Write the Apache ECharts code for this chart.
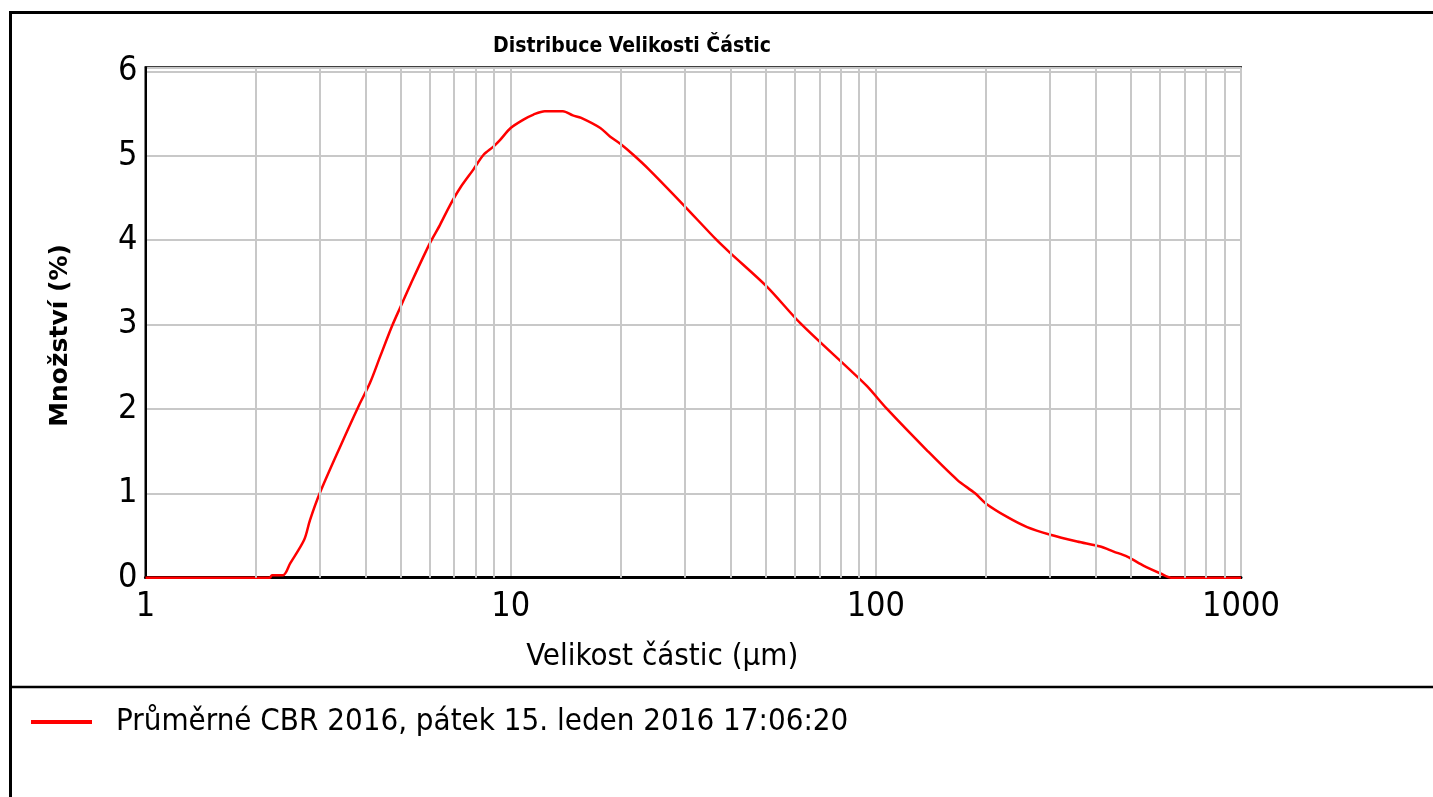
<!DOCTYPE html>
<html>
<head>
<meta charset="utf-8">
<script src="https://cdn.jsdelivr.net/npm/echarts@6/dist/echarts.min.js"></script>
<style>
html,body{margin:0;padding:0;background:#fff;}
#chart{width:1433px;height:797px;}
</style>
</head>
<body>
<div id="chart"></div>
<script>
// Particle size (µm) and amount (%)
const sizes = [1, 2.19, 2.22, 2.38, 2.49, 2.72, 2.82, 3.0, 3.41, 3.83, 4.12, 4.39, 4.73, 4.98, 5.31, 6.0, 6.4, 6.83, 7.27, 7.91, 8.42, 8.97, 9.36, 10, 10.84, 11.55, 12.4, 13.9, 14.8, 15.6, 17.6, 18.7, 20, 21.7, 23.9, 29.7, 36.7, 39.9, 50.3, 62, 85.1, 94.6, 107.3, 138, 167, 187, 200, 228.8, 259.6, 300.6, 355.8, 412, 448, 488, 542, 602, 644, 1000];
const amounts = [0, 0, 0.03, 0.03, 0.17, 0.45, 0.68, 1.0, 1.55, 2.03, 2.31, 2.62, 2.98, 3.2, 3.47, 3.96, 4.18, 4.42, 4.62, 4.84, 5.01, 5.11, 5.19, 5.33, 5.43, 5.49, 5.53, 5.53, 5.48, 5.45, 5.33, 5.23, 5.14, 5.01, 4.84, 4.42, 4.0, 3.85, 3.45, 3.02, 2.46, 2.27, 2.0, 1.51, 1.16, 1.0, 0.88, 0.72, 0.60, 0.51, 0.43, 0.37, 0.31, 0.25, 0.14, 0.05, 0, 0];
const minorGridSizes = [2, 3, 4, 5, 6, 7, 8, 9, 20, 30, 40, 50, 60, 70, 80, 90, 200, 300, 400, 500, 600, 700, 800, 900];
const seriesName = 'Průměrné CBR 2016, pátek 15. leden 2016 17:06:20';
const titleText = 'Distribuce Velikosti Částic';
const xTitle = 'Velikost částic (µm)';
const yTitle = 'Množství (%)';

const NARROW = "'Liberation Sans Narrow', 'DejaVu Sans Condensed', sans-serif";
const COND = "'DejaVu Sans Condensed', sans-serif";
const GRID_GRAY = '#c8c8c8';

const chart = echarts.init(document.getElementById('chart'), null, {renderer: 'canvas'});
const data = sizes.map((s, i) => [s, amounts[i]]);

chart.setOption({
  animation: false,
  backgroundColor: '#fff',
  title: {
    text: titleText,
    left: 493, top: 36,
    padding: 0,
    textStyle: {fontFamily: COND, fontWeight: 'bold', fontSize: 21, color: '#000'}
  },
  grid: {
    left: 145.5, right: 192, top: 67.3, bottom: 219.3,
    show: true, borderColor: '#000', borderWidth: 2, backgroundColor: 'transparent'
  },
  legend: {
    data: [seriesName],
    left: 31, top: 706.5, padding: 0,
    icon: 'rect', itemWidth: 61, itemHeight: 4,
    textStyle: {fontFamily: COND, fontSize: 31, color: '#000', padding: [0, 0, 0, 19]}
  },
  xAxis: {
    type: 'log', logBase: 10, min: 1, max: 1000,
    name: xTitle, nameLocation: 'middle', nameGap: 64,
    nameTextStyle: {fontFamily: COND, fontSize: 31, color: '#000', padding: [0, 62, 0, 0]},
    axisLine: {show: true, lineStyle: {color: '#000', width: 3}},
    axisTick: {show: false},
    axisLabel: {fontFamily: NARROW, fontSize: 34, color: '#000', margin: 12, formatter: v => String(Math.round(v))},
    splitLine: {show: true, lineStyle: {color: GRID_GRAY, width: 2}}
  },
  yAxis: {
    type: 'value', min: 0, max: 6.05, interval: 1,
    name: yTitle, nameLocation: 'middle', nameGap: 73,
    nameTextStyle: {fontFamily: "'DejaVu Sans', sans-serif", fontWeight: 'bold', fontSize: 25, color: '#000', padding: [0, 26, 0, 0]},
    axisLine: {show: true, lineStyle: {color: '#000', width: 2}},
    axisTick: {show: false},
    axisLabel: {fontFamily: NARROW, fontSize: 34, color: '#000', margin: 8, showMaxLabel: false, padding: [7, 0, 0, 0]},
    splitLine: {show: true, lineStyle: {color: GRID_GRAY, width: 2}}
  },
  series: [
    {
      name: 'grid', type: 'line', data: [], silent: true, z: 1,
      markLine: {
        silent: true, symbol: ['none', 'none'], animation: false,
        label: {show: false},
        lineStyle: {color: GRID_GRAY, width: 2, type: 'solid'},
        emphasis: {disabled: true},
        data: minorGridSizes.map(v => ({xAxis: v}))
      }
    },
    {
      name: seriesName, type: 'line', data: data, z: 3,
      showSymbol: false, smooth: 0.3,
      color: '#ff0000',
      lineStyle: {color: '#ff0000', width: 2.5}
    }
  ],
  graphic: [
    {type: 'line', shape: {x1: 10, y1: 12.5, x2: 1440, y2: 12.5}, style: {stroke: '#000', lineWidth: 3}, silent: true},
    {type: 'line', shape: {x1: 10.5, y1: 11, x2: 10.5, y2: 800}, style: {stroke: '#000', lineWidth: 3}, silent: true},
    {type: 'line', shape: {x1: 10, y1: 687, x2: 1440, y2: 687}, style: {stroke: '#000', lineWidth: 2.5}, silent: true}
  ]
});
</script>
</body>
</html>
